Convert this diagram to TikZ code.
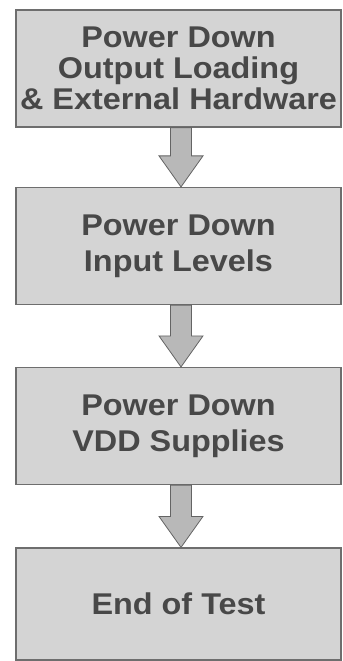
\documentclass[tikz,border=0pt]{standalone}
\usepackage{fontspec}
\setmainfont{Liberation Sans}[FakeStretch=1.08]
\usetikzlibrary{calc}
\definecolor{boxfill}{RGB}{212,212,212}
\definecolor{boxline}{RGB}{110,110,110}
\definecolor{boxtext}{RGB}{72,72,72}
\definecolor{arrfill}{RGB}{184,184,184}
\definecolor{arrline}{RGB}{100,100,100}
\begin{document}
\begin{tikzpicture}[x=1bp,y=-1bp,
    stepbox/.style={draw=boxline,fill=boxfill,line width=1.2bp,minimum width=325bp,
        minimum height=117bp,inner sep=0pt,align=center,text=boxtext,
        font=\fontsize{30bp}{31bp}\selectfont\bfseries},
    flow/.style={draw=arrline,fill=arrfill,line width=0.8bp,line join=miter}
]
\useasboundingbox (0,0) rectangle (342,661);
\node[stepbox] (out) at (178.5,68.5) {Power Down\\Output Loading\\\& External Hardware};
\node[stepbox] (inp) at (178.5,246)  {Power Down\\[5bp]Input Levels};
\node[stepbox] (vdd) at (178.5,426)  {Power Down\\[5bp]VDD Supplies};
\node[stepbox,minimum height=112bp] (eot) at (178.5,604) {End of Test};

\foreach \a/\b in {out/inp,inp/vdd,vdd/eot}
  \draw[flow] ($(\a.south)+(-8,0)$) -- ($(\b.north)+(-8,-31)$) -- ($(\b.north)+(-19.5,-31)$)
    -- ($(\b.north)+(2.5,0)$) -- ($(\b.north)+(24.5,-31)$) -- ($(\b.north)+(13,-31)$)
    -- ($(\a.south)+(13,0)$) -- cycle;
\end{tikzpicture}
\end{document}
